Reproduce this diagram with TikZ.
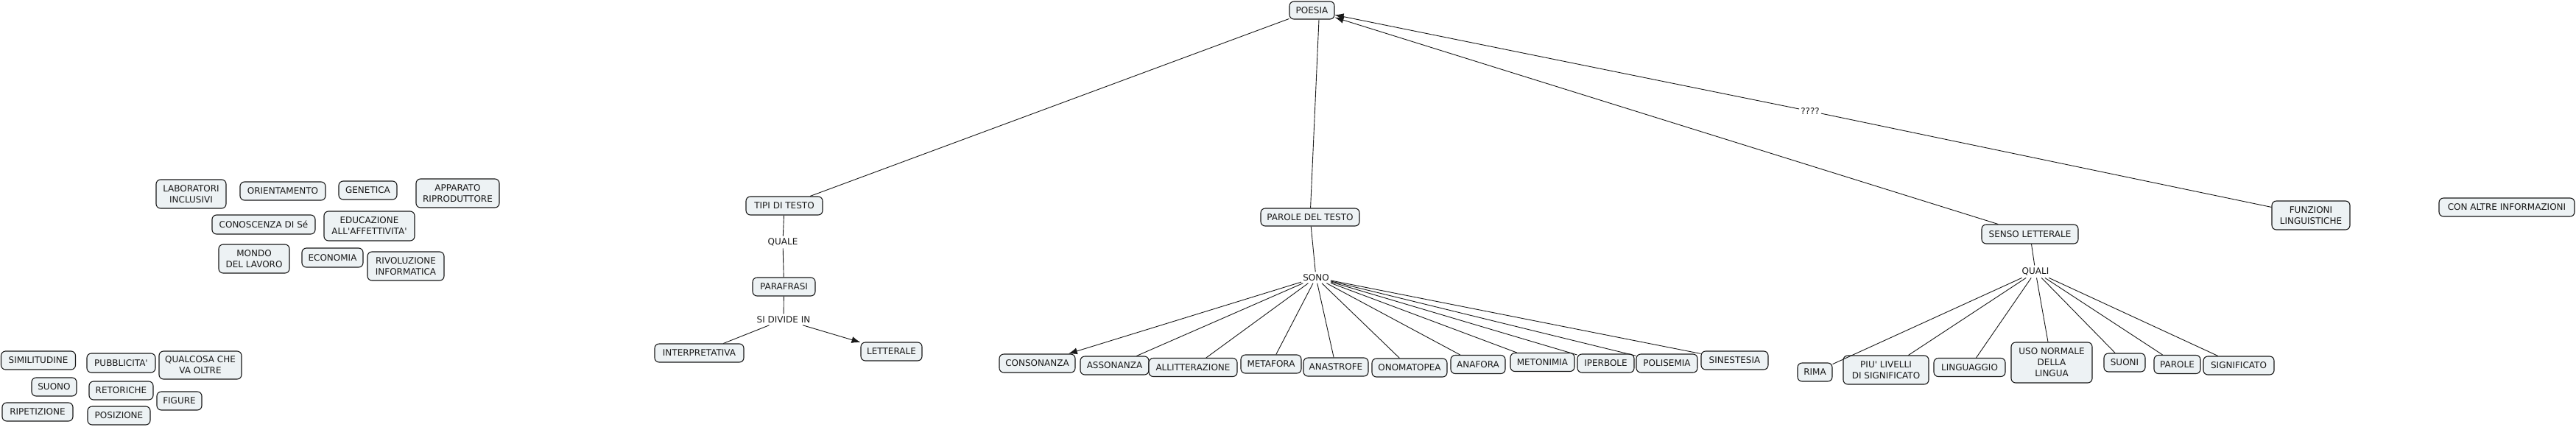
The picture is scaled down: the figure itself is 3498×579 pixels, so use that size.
\documentclass[tikz,border=0pt]{standalone}
\usepackage{fontspec}
\setmainfont{DejaVu Sans}
\usetikzlibrary{arrows.meta}
\definecolor{boxfill}{RGB}{237,242,244}
\definecolor{ink}{RGB}{25,25,25}
\newcommand\ap{\textquotesingle}
\tikzset{
  concept/.style={draw=ink, fill=boxfill, rounded corners=6pt, line width=1.1pt,
    inner xsep=1pt, inner ysep=2pt, align=center,
    font=\fontsize{12}{15}\selectfont, text=ink},
  linkph/.style={inner xsep=2pt, inner ysep=3pt, font=\fontsize{12}{15}\selectfont, text=ink},
  conn/.style={draw=ink, line width=0.9pt},
  arr/.style={conn, -{Latex[length=12pt,width=9pt]}},
}
\begin{document}
\begin{tikzpicture}[x=1pt, y=-1pt]
\useasboundingbox (0,0) rectangle (3498,579);

% main tree
\node[concept, minimum width=61pt, minimum height=24pt] (poesia) at (1781.5,14) {POESIA};
\node[concept, minimum width=104pt, minimum height=25pt] (tipi) at (1065,279.5) {TIPI DI TESTO};
\node[linkph] (quale) at (1063,329) {QUALE};
\node[concept, minimum width=85pt, minimum height=25pt] (parafrasi) at (1064.5,389.5) {PARAFRASI};
\node[linkph] (sidivide) at (1064,434) {SI DIVIDE IN};
\node[concept, minimum width=121pt, minimum height=25pt] (interp) at (949.5,479.5) {INTERPRETATIVA};
\node[concept, minimum width=83pt, minimum height=25pt] (letterale) at (1210.5,477.5) {LETTERALE};

\node[concept, minimum width=134pt, minimum height=24pt] (parole) at (1779,295) {PAROLE DEL TESTO};
\node[linkph] (sono) at (1787,377) {SONO};
\node[concept, minimum width=103pt, minimum height=25pt] (consonanza) at (1408.5,493.5) {CONSONANZA};
\node[concept, minimum width=93pt, minimum height=25pt] (assonanza) at (1513.5,496.5) {ASSONANZA};
\node[concept, minimum width=120pt, minimum height=25pt] (allitt) at (1620,499) {ALLITTERAZIONE};
\node[concept, minimum width=82pt, minimum height=25pt] (metafora) at (1726,494.5) {METAFORA};
\node[concept, minimum width=88pt, minimum height=25pt] (anastrofe) at (1814,498.5) {ANASTROFE};
\node[concept, minimum width=102pt, minimum height=25pt] (onomatopea) at (1914,499.5) {ONOMATOPEA};
\node[concept, minimum width=74pt, minimum height=25pt] (anafora) at (2007,495) {ANAFORA};
\node[concept, minimum width=87pt, minimum height=25pt] (metonimia) at (2094.5,492) {METONIMIA};
\node[concept, minimum width=77pt, minimum height=25pt] (iperbole) at (2180.5,493.5) {IPERBOLE};
\node[concept, minimum width=83pt, minimum height=25pt] (polisemia) at (2263.5,493.5) {POLISEMIA};
\node[concept, minimum width=91pt, minimum height=25pt] (sinestesia) at (2355.5,489.5) {SINESTESIA};

\node[concept, minimum width=131pt, minimum height=26pt] (senso) at (2756.5,318) {SENSO LETTERALE};
\node[linkph] (quali) at (2764,369) {QUALI};
\node[concept, minimum width=47pt, minimum height=25pt] (rima) at (2464.5,505.5) {RIMA};
\node[concept, minimum width=116pt, minimum height=39pt] (livelli) at (2561,502.5) {PIU\ap{} LIVELLI\\DI SIGNIFICATO};
\node[concept, minimum width=97pt, minimum height=25pt] (linguaggio) at (2674.5,499) {LINGUAGGIO};
\node[concept, minimum width=110pt, minimum height=55pt] (uso) at (2786,492.5) {USO NORMALE\\DELLA\\LINGUA};
\node[concept, minimum width=56pt, minimum height=25pt] (suoni) at (2885,492.5) {SUONI};
\node[concept, minimum width=63pt, minimum height=25pt] (paroleq) at (2956.5,495) {PAROLE};
\node[concept, minimum width=96pt, minimum height=25pt] (significato) at (3040,496.5) {SIGNIFICATO};

\node[concept, minimum width=106pt, minimum height=39pt] (funzioni) at (3138,292.5) {FUNZIONI\\LINGUISTICHE};
\node[linkph] (qqqq) at (2458,151) {????};
\node[concept, minimum width=184pt, minimum height=25pt] (altre) at (3404,281.5) {CON ALTRE INFORMAZIONI};

% free cluster (upper left)
\node[concept, minimum width=95pt, minimum height=39pt] (lab) at (259.5,263.5) {LABORATORI\\INCLUSIVI};
\node[concept, minimum width=116pt, minimum height=25pt] (orient) at (384,259.5) {ORIENTAMENTO};
\node[concept, minimum width=79pt, minimum height=25pt] (genetica) at (499.5,258.5) {GENETICA};
\node[concept, minimum width=113pt, minimum height=39pt] (apparato) at (621.5,262.5) {APPARATO\\RIPRODUTTORE};
\node[concept, minimum width=140pt, minimum height=26pt] (conoscenza) at (358,305) {CONOSCENZA DI Sé};
\node[concept, minimum width=123pt, minimum height=40pt] (educazione) at (501.5,307) {EDUCAZIONE\\ALL\ap{}AFFETTIVITA\ap{}};
\node[concept, minimum width=96pt, minimum height=39pt] (mondo) at (345,351.5) {MONDO\\DEL LAVORO};
\node[concept, minimum width=83pt, minimum height=26pt] (economia) at (451.5,350) {ECONOMIA};
\node[concept, minimum width=104pt, minimum height=39pt] (rivoluzione) at (551,361.5) {RIVOLUZIONE\\INFORMATICA};

% free cluster (lower left)
\node[concept, minimum width=101pt, minimum height=25pt] (similitudine) at (52,489.5) {SIMILITUDINE};
\node[concept, minimum width=93pt, minimum height=26pt] (pubblicita) at (164.5,493) {PUBBLICITA\ap{}};
\node[concept, minimum width=112pt, minimum height=38pt] (qualcosa) at (272,496) {QUALCOSA CHE\\VA OLTRE};
\node[concept, minimum width=61pt, minimum height=25pt] (suono) at (73.5,525.5) {SUONO};
\node[concept, minimum width=87pt, minimum height=25pt] (retoriche) at (164.5,530.5) {RETORICHE};
\node[concept, minimum width=61pt, minimum height=25pt] (figure) at (243.5,544.5) {FIGURE};
\node[concept, minimum width=96pt, minimum height=25pt] (ripetizione) at (51,559.5) {RIPETIZIONE};
\node[concept, minimum width=85pt, minimum height=25pt] (posizione) at (161.5,564.5) {POSIZIONE};

% connectors
\draw[conn] (poesia) -- (tipi);
\draw[conn] ([xshift=9.5pt]poesia.south) -- (parole);
\draw[conn] (tipi) -- (quale);
\draw[conn] (quale) -- (parafrasi);
\draw[conn] (parafrasi) -- (sidivide);
\draw[conn] (sidivide) -- (interp);
\draw[arr] (sidivide) -- (letterale);

\draw[conn] (parole) -- (sono);
\draw[arr] (sono) -- (consonanza);
\foreach \n in {assonanza,allitt,metafora,anastrofe,onomatopea,anafora,metonimia,iperbole,polisemia,sinestesia}
  \draw[conn] (sono) -- (\n);

\draw[arr] (senso) -- (poesia);
\draw[conn] (funzioni) -- (qqqq);
\draw[arr] (qqqq) -- (poesia);

\draw[conn] (senso) -- (quali);
\foreach \n in {rima,livelli,linguaggio,uso,suoni,paroleq,significato}
  \draw[conn] (quali) -- (\n);
\end{tikzpicture}
\end{document}
